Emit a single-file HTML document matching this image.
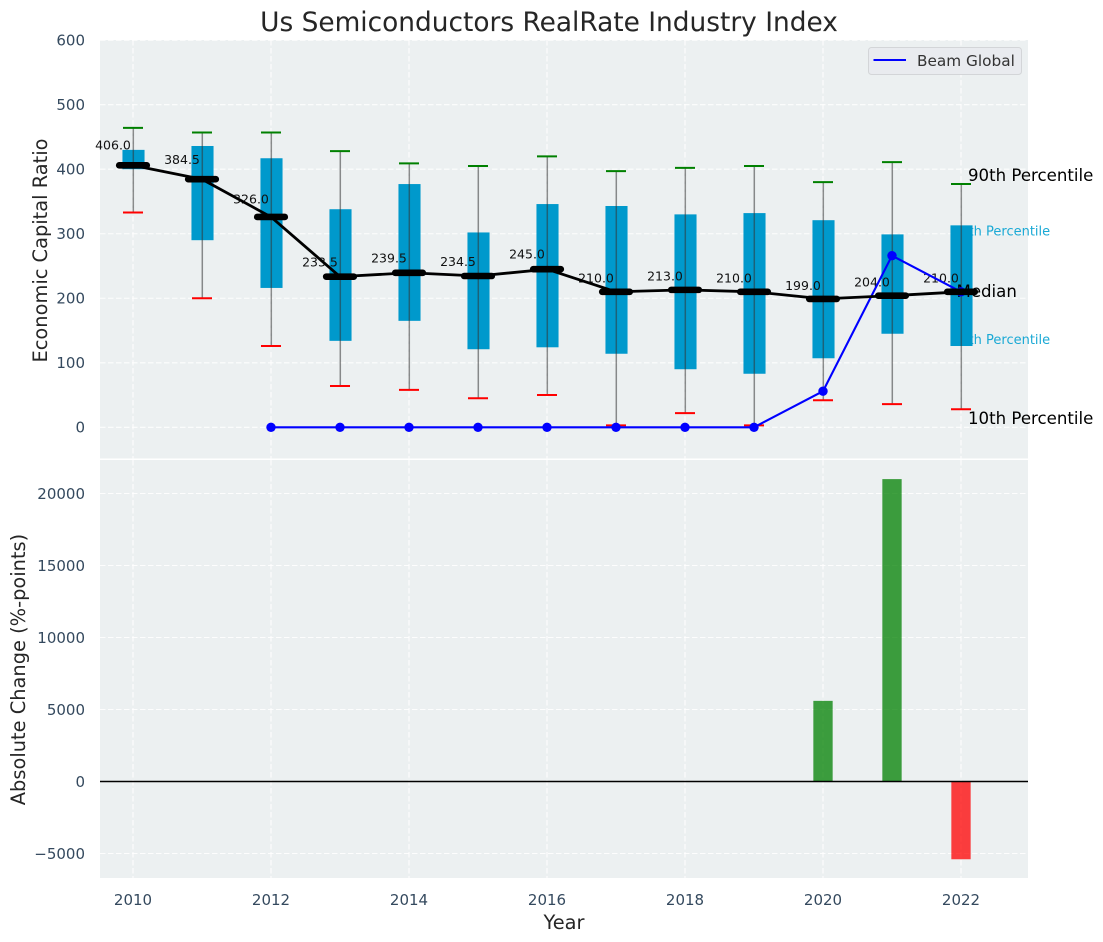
<!DOCTYPE html>
<html lang="en">
<head>
<meta charset="utf-8">
<title>Us Semiconductors RealRate Industry Index</title>
<style>
html,body{margin:0;padding:0;background:#fff;width:1103px;height:942px;overflow:hidden}
svg{display:block}
text{font-family:"DejaVu Sans","Liberation Sans",sans-serif}
.tick{font-size:15px;fill:#34495e}
.axis-title{font-size:19.4px;fill:#262626}
.note{font-size:16.6px;fill:#000}
.note-blue{font-size:13px;fill:#1aa9d5}
.median-label{font-size:12.5px;fill:#111}
</style>
</head>
<body>
<svg id="chart" xmlns="http://www.w3.org/2000/svg" width="1103" height="942" viewBox="0 0 1103 942">
  <rect x="100" y="40" width="928" height="418.5" fill="#ecf0f1"/>
  <rect x="100" y="460" width="928" height="418" fill="#ecf0f1"/>
  <g id="grid"></g>
  <g id="ticks"></g>
  <text class="note-blue" x="952" y="235.5">75th Percentile</text>
  <text class="note-blue" x="952" y="344">25th Percentile</text>
  <g id="boxes"></g>
  <g id="whiskers"></g>
  <g id="labels"></g>
  <text class="note" x="968" y="181">90th Percentile</text>
  <text class="note" x="956.5" y="297">Median</text>
  <text class="note" x="968" y="424">10th Percentile</text>
  <g id="beam-series"></g>
  <g id="median-series"></g>
  <g id="bars"></g>
  <line x1="100" x2="1028" y1="781.5" y2="781.5" stroke="#000" stroke-width="1.4"/>
  <text x="549" y="31" text-anchor="middle" font-size="26.4" fill="#262626">Us Semiconductors RealRate Industry Index</text>
  <text class="axis-title" text-anchor="middle" transform="translate(47 250.5) rotate(-90)">Economic Capital Ratio</text>
  <text class="axis-title" text-anchor="middle" transform="translate(25 669.5) rotate(-90)">Absolute Change (%-points)</text>
  <text class="axis-title" x="564" y="929" text-anchor="middle">Year</text>
  <g>
    <rect x="868.5" y="47.5" width="153" height="27" rx="3" fill="#e9ebef" stroke="#d3d5d8"/>
    <line x1="873.5" x2="906" y1="60" y2="60" stroke="#0000ff" stroke-width="2"/>
    <text x="917" y="66" font-size="15.3" fill="#333">Beam Global</text>
  </g>
</svg>
<script>
const years = [2010, 2011, 2012, 2013, 2014, 2015, 2016, 2017, 2018, 2019, 2020, 2021, 2022];
const p90 = [464, 457, 457, 428, 409, 405, 420, 397, 402, 405, 380, 411, 377];
const p75 = [430, 436, 417, 338, 377, 302, 346, 343, 330, 332, 321, 299, 313];
const medians = [406, 384.5, 326, 233.5, 239.5, 234.5, 245, 210, 213, 210, 199, 204, 210];
const p25 = [400, 290, 216, 134, 165, 121, 124, 114, 90, 83, 107, 145, 126];
const p10 = [333, 200, 126, 64, 58, 45, 50, 3, 22, 3, 42, 36, 28];
const beamGlobal = [null, null, 0, 0, 0, 0, 0, 0, 0, 0, 56, 266, 210];
const absoluteChange = [0, 0, 0, 0, 0, 0, 0, 0, 0, 0, 5600, 21000, -5400];
const xTickYears = [2010, 2012, 2014, 2016, 2018, 2020, 2022];
const topTicks = [0, 100, 200, 300, 400, 500, 600];
const bottomTicks = [-5000, 0, 5000, 10000, 15000, 20000];

const NS = 'http://www.w3.org/2000/svg';
const xScale = function (year) { return 133 + (year - 2010) * 69; };
const xSpan = function (years) { return years * 69; };
const yTop = function (v) { return 427.3 - v * 0.6452; };
const yBottom = function (v) { return 781.5 - v * 0.0144; };
const GRID_DASH = '5.5 2.5';

function make(parentId, tag, attrs, text) {
  const el = document.createElementNS(NS, tag);
  Object.keys(attrs).forEach(function (k) { el.setAttribute(k, attrs[k]); });
  if (text !== undefined) el.textContent = text;
  document.getElementById(parentId).appendChild(el);
  return el;
}

/* grid */
xTickYears.forEach(function (yr) {
  [[40, 458.5], [460, 878]].forEach(function (range) {
    const g = make('grid', 'line', { x1: xScale(yr), x2: xScale(yr), y1: range[0], y2: range[1], stroke: '#fff', 'stroke-width': 1.1, 'stroke-dasharray': GRID_DASH, opacity: 0.9 });
    
    
  });
  const t = make('ticks', 'text', { x: xScale(yr), y: 905, 'text-anchor': 'middle', class: 'tick' }, String(yr));
  
  
});
topTicks.forEach(function (v) {
  const g = make('grid', 'line', { x1: 100, x2: 1028, y1: yTop(v), y2: yTop(v), stroke: '#fff', 'stroke-width': 1.1, 'stroke-dasharray': GRID_DASH, opacity: 0.9 });
  
  
  const t = make('ticks', 'text', { x: 85, y: yTop(v) + 5.4, 'text-anchor': 'end', class: 'tick' }, String(v));
  
  
});
bottomTicks.forEach(function (v) {
  const g = make('grid', 'line', { x1: 100, x2: 1028, y1: yBottom(v), y2: yBottom(v), stroke: '#fff', 'stroke-width': 1.1, 'stroke-dasharray': GRID_DASH, opacity: 0.9 });
  
  
  const t = make('ticks', 'text', { x: 85, y: yBottom(v) + 5.4, 'text-anchor': 'end', class: 'tick' }, String(v).replace('-', '\u2212'));
  
  
});

/* percentile boxes, whiskers, caps, median labels */
years.forEach(function (yr, i) {
  const cx = xScale(yr);
  const boxW = xSpan(0.32);
  const capW = xSpan(0.29);
  const box = make('boxes', 'rect', { x: cx - boxW / 2 + 0.5, y: yTop(p75[i]), width: boxW, height: yTop(p25[i]) - yTop(p75[i]), fill: '#0099cc' });
  
  
  const w = make('whiskers', 'line', { x1: cx + 0.3, x2: cx + 0.3, y1: yTop(p90[i]), y2: yTop(p10[i]), stroke: '#333', 'stroke-opacity': 0.55, 'stroke-width': 1.5 });
  
  
  const hi = make('whiskers', 'line', { x1: cx - capW / 2, x2: cx + capW / 2, y1: yTop(p90[i]), y2: yTop(p90[i]), stroke: '#008000', 'stroke-width': 2 });
  
  
  const lo = make('whiskers', 'line', { x1: cx - capW / 2, x2: cx + capW / 2, y1: yTop(p10[i]), y2: yTop(p10[i]), stroke: '#ff0000', 'stroke-width': 2 });
  
  
  const labelOffset = 2.3 + medians[i] * 0.0338;
  const lab = make('labels', 'text', { x: cx - 20, y: yTop(medians[i]) - labelOffset, 'text-anchor': 'middle', class: 'median-label' }, medians[i].toFixed(1));
  
  
});

/* Beam Global line (drawn beneath the median series) */
const beamPoints = [];
years.forEach(function (yr, i) {
  if (beamGlobal[i] !== null) beamPoints.push(xScale(yr) + ',' + yTop(beamGlobal[i]));
});
const beamLine = make('beam-series', 'polyline', { points: beamPoints.join(' '), fill: 'none', stroke: '#0000ff', 'stroke-width': 2.1 });


years.forEach(function (yr, i) {
  if (beamGlobal[i] === null) return;
  const p = make('beam-series', 'circle', { cx: xScale(yr), cy: yTop(beamGlobal[i]), r: 4.7, fill: '#0000ff' });
  
  
});

/* median line with thick markers */
const medianPoints = years.map(function (yr, i) { return xScale(yr) + ',' + yTop(medians[i]); }).join(' ');
const medLine = make('median-series', 'polyline', { points: medianPoints, fill: 'none', stroke: '#000', 'stroke-width': 2.8, 'stroke-linejoin': 'round' });


years.forEach(function (yr, i) {
  const half = xSpan(0.2);
  const m = make('median-series', 'line', { x1: xScale(yr) - half, x2: xScale(yr) + half, y1: yTop(medians[i]), y2: yTop(medians[i]), stroke: '#000', 'stroke-width': 6.6, 'stroke-linecap': 'round' });
  
  
});

/* absolute change bars */
years.forEach(function (yr, i) {
  const v = absoluteChange[i];
  if (v === 0) return;
  const w = xSpan(0.28);
  const top = Math.min(yBottom(v), yBottom(0));
  const b = make('bars', 'rect', { x: xScale(yr) - w / 2, y: top, width: w, height: Math.abs(yBottom(v) - yBottom(0)), fill: v > 0 ? '#008000' : '#ff0000', 'fill-opacity': 0.75 });
  
  
});
</script>
</body>
</html>
